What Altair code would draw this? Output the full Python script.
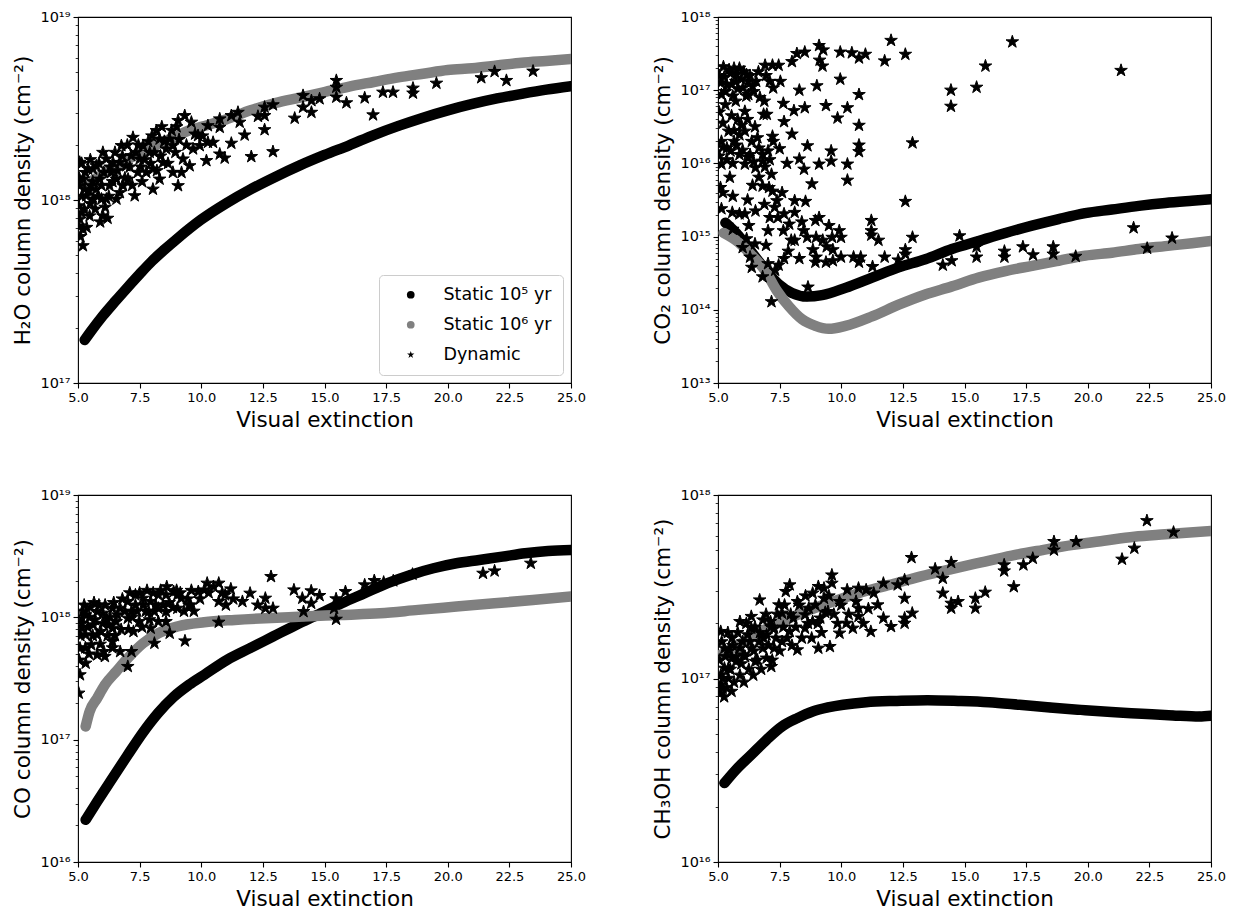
import altair as alt
import pandas as pd

SERIES = ["Static 10⁵ yr", "Static 10⁶ yr", "Dynamic"]
COLORS = ["#000000", "#808080", "#000000"]
STAR = ("M0,-1 L0.2245,-0.309 L0.951,-0.309 L0.363,0.118 L0.588,0.809 "
        "L0,0.382 L-0.588,0.809 L-0.363,0.118 L-0.951,-0.309 L-0.2245,-0.309 Z")
X_TICKS = [5.0, 7.5, 10.0, 12.5, 15.0, 17.5, 20.0, 22.5, 25.0]

# ---------------- H2O ----------------
H2O_S5_AV = [5.27, 5.5, 6.0, 6.5, 7.0, 7.5, 8.0, 8.5, 9.0, 10.0, 11.0, 12.0, 13.0, 14.0, 15.0,
             16.0, 17.0, 18.0, 19.0, 20.0, 21.0, 22.0, 23.0, 24.0, 25.0]
H2O_S5_LOG = [17.235, 17.278, 17.366, 17.445, 17.521, 17.595, 17.666, 17.728, 17.786, 17.893,
              17.981, 18.058, 18.126, 18.189, 18.246, 18.299, 18.355, 18.405, 18.45, 18.49,
              18.525, 18.555, 18.58, 18.603, 18.622]
H2O_S6_AV = [5.25, 5.5, 5.75, 6.0, 6.5, 7.0, 7.5, 8.0, 8.5, 9.0, 9.5, 10.0, 11.0, 12.0, 13.0, 14.0,
             15.0, 16.0, 17.0, 18.0, 19.0, 20.0, 21.0, 22.0, 23.0, 24.0, 25.0]
H2O_S6_LOG = [18.08, 18.10, 18.12, 18.14, 18.18, 18.22, 18.26, 18.29, 18.32, 18.35, 18.38, 18.40,
              18.44, 18.49, 18.53, 18.56, 18.59, 18.62, 18.645, 18.67, 18.69, 18.71, 18.72,
              18.735, 18.75, 18.76, 18.77]
H2O_DYN = [(15.48, 18.653), (15.48, 18.616), (15.48, 18.562), (14.13, 18.571), (14.13, 18.507),
           (14.47, 18.543), (14.47, 18.479), (14.80, 18.553), (13.79, 18.447), (15.89, 18.531),
           (16.63, 18.558), (16.97, 18.465), (17.37, 18.589), (17.78, 18.589), (18.59, 18.611),
           (18.59, 18.584), (19.54, 18.638), (21.36, 18.668), (21.90, 18.702), (22.38, 18.653),
           (23.46, 18.704), (12.91, 18.52), (12.57, 18.507), (12.57, 18.461), (12.57, 18.384),
           (12.30, 18.457), (12.91, 18.264), (12.03, 18.237), (11.76, 18.355), (11.49, 18.479),
           (11.22, 18.461), (11.22, 18.31), (11.56, 18.425), (10.95, 18.229), (10.75, 18.443),
           (10.75, 18.397), (10.75, 18.251), (10.27, 18.406), (10.27, 18.315), (10.21, 18.215),
           (9.87, 18.352), (9.67, 18.279), (9.60, 18.425), (9.33, 18.461), (9.06, 18.434),
           (9.06, 18.078), (8.85, 18.151), (8.18, 18.379), (8.04, 18.059), (8.72, 18.333),
           (8.45, 18.205), (7.91, 18.260), (7.64, 18.297), (7.23, 18.342), (6.76, 18.297),
           (7.30, 18.023), (6.01, 18.26), (5.61, 18.169), (5.20, 17.84), (6.01, 17.913),
           (5.07, 18.206), (5.34, 18.023), (6.15, 18.005), (6.56, 18.114), (6.96, 18.187),
           (7.50, 18.224), (8.58, 18.279), (9.26, 18.224), (9.53, 18.187), (8.04, 18.169),
           (8.31, 18.114), (6.42, 18.205), (5.61, 18.005), (5.07, 18.078), (5.47, 17.913),
           (5.88, 18.114), (6.28, 18.078), (6.83, 18.078), (7.16, 18.242), (8.85, 18.297),
           (9.94, 18.297), (10.48, 18.315), (8.31, 18.333), (7.77, 18.151), (5.03, 17.968),
           (5.20, 18.114), (5.74, 18.059), (6.56, 18.005), (5.41, 18.169), (5.03, 17.858),
           (5.14, 17.93), (5.54, 18.078), (5.95, 18.005), (6.35, 18.151), (6.69, 18.205),
           (7.03, 18.114), (7.43, 18.151), (6.15, 18.224), (5.74, 18.187), (5.27, 18.059),
           (5.07, 17.895), (5.05, 18.12), (5.15, 18.02), (5.25, 17.95), (5.30, 18.15),
           (5.45, 18.05), (5.50, 17.98), (5.60, 18.10), (5.70, 17.95), (5.80, 18.02),
           (5.85, 18.20), (5.95, 18.08), (6.05, 18.15), (6.10, 17.96), (6.25, 18.02),
           (6.30, 18.18), (6.40, 18.10), (6.50, 18.26), (6.60, 18.16), (6.70, 18.04),
           (6.80, 18.24), (6.90, 18.12), (7.00, 18.30), (7.10, 18.18), (7.20, 18.08),
           (7.35, 18.26), (7.45, 18.30), (7.55, 18.18), (7.70, 18.22), (7.85, 18.32),
           (7.95, 18.20), (8.10, 18.26), (8.20, 18.16), (8.35, 18.24), (8.50, 18.32),
           (8.65, 18.20), (8.80, 18.38), (8.95, 18.26), (9.10, 18.33), (9.20, 18.15),
           (9.40, 18.30), (9.75, 18.36), (10.05, 18.35), (5.10, 17.80), (5.20, 17.75),
           (5.35, 17.85), (5.15, 18.20), (5.50, 18.22), (5.90, 17.88), (6.20, 17.90),
           (7.60, 18.10), (8.00, 18.35), (8.40, 18.40), (9.00, 18.40)]

# ---------------- CO2 ----------------
CO2_S5_AV = [5.30, 5.84, 6.38, 6.92, 7.46, 8.0, 8.61, 9.22, 10.17, 11.25, 12.33, 13.41, 14.49,
             15.57, 16.66, 17.74, 18.82, 19.90, 20.98, 22.07, 23.15, 24.23, 25.0]
CO2_S5_LOG = [15.19, 15.01, 14.78, 14.55, 14.35, 14.23, 14.18, 14.20, 14.30, 14.44, 14.58, 14.69,
              14.83, 14.94, 15.05, 15.15, 15.24, 15.32, 15.37, 15.42, 15.46, 15.49, 15.51]
CO2_S6_AV = [5.23, 5.84, 6.38, 6.92, 7.39, 7.87, 8.41, 8.95, 9.49, 10.17, 11.25, 12.33, 13.41,
             14.49, 15.57, 16.66, 17.74, 18.82, 19.90, 20.98, 22.07, 23.15, 24.23, 25.0]
CO2_S6_LOG = [15.05, 14.92, 14.74, 14.53, 14.26, 14.05, 13.87, 13.78, 13.74, 13.78, 13.91, 14.07,
              14.21, 14.32, 14.44, 14.53, 14.60, 14.67, 14.74, 14.78, 14.83, 14.87, 14.91, 14.94]
CO2_DYN = [(12.02, 17.68), (16.94, 17.66), (21.35, 17.27), (15.85, 17.33), (15.49, 17.04),
           (14.45, 17.00), (14.45, 16.78), (12.89, 16.28), (12.60, 17.49), (12.60, 15.48),
           (11.76, 17.40), (10.98, 17.49), (10.72, 17.44), (10.72, 16.94), (10.72, 16.52),
           (10.72, 16.25), (10.72, 16.16), (10.43, 17.51), (10.25, 16.76), (10.25, 15.99),
           (10.25, 15.77), (9.96, 17.52), (9.96, 17.15), (9.85, 16.62), (9.59, 16.17),
           (9.59, 16.03), (9.38, 16.79), (9.10, 17.61), (9.27, 17.55), (9.12, 17.41),
           (9.24, 17.33), (9.01, 17.06), (9.10, 15.99), (8.63, 16.24), (8.52, 17.52),
           (8.52, 16.76), (8.30, 17.00), (8.30, 16.06), (8.49, 15.92), (8.81, 15.72),
           (8.55, 15.48), (8.08, 16.72), (8.20, 17.50), (8.00, 17.39), (7.65, 16.82),
           (7.68, 16.57), (7.21, 16.37), (6.98, 16.67), (6.85, 16.67), (7.21, 17.34),
           (7.53, 17.12), (6.91, 17.34), (6.64, 17.25), (6.16, 17.21), (5.87, 17.30),
           (5.65, 17.30), (5.22, 17.32), (5.36, 17.07), (5.14, 16.94), (5.72, 16.85),
           (6.09, 16.71), (5.80, 16.60), (5.43, 16.44), (5.14, 16.30), (5.51, 16.17),
           (5.87, 16.12), (6.09, 15.99), (6.23, 16.08), (6.52, 15.94), (6.81, 16.03),
           (6.66, 16.21), (6.37, 16.30), (5.14, 15.99), (5.48, 15.81), (5.10, 15.67),
           (5.14, 15.38), (5.58, 15.33), (6.09, 15.31), (6.52, 15.35), (6.81, 15.69),
           (7.21, 15.62), (7.39, 15.49), (7.10, 15.26), (7.68, 15.31), (8.11, 15.33),
           (7.65, 15.08), (7.97, 14.95), (8.11, 14.95), (8.47, 15.08), (8.62, 14.99),
           (8.95, 15.22), (9.10, 15.26), (8.98, 14.99), (9.41, 14.86), (9.63, 14.99),
           (9.92, 15.08), (9.99, 14.99), (9.66, 14.82), (9.99, 14.72), (8.98, 14.72),
           (8.95, 14.65), (9.38, 14.65), (9.66, 14.67), (10.50, 14.72), (10.79, 14.72),
           (10.72, 14.65), (11.27, 14.59), (11.22, 15.22), (11.22, 15.08), (11.22, 15.02),
           (11.51, 14.95), (11.76, 14.72), (12.31, 14.68), (12.60, 14.82), (12.60, 14.76),
           (12.89, 14.99), (14.12, 14.61), (14.48, 14.67), (14.80, 15.01), (15.49, 14.86),
           (15.49, 14.72), (16.62, 14.80), (16.62, 14.72), (17.37, 14.86), (17.78, 14.75),
           (18.60, 14.86), (18.60, 14.76), (19.51, 14.73), (21.86, 15.12), (22.41, 14.84),
           (23.42, 14.98), (7.17, 14.11), (8.65, 14.31), (6.81, 14.45), (6.37, 14.58),
           (6.30, 14.72), (6.16, 14.97), (5.87, 15.31), (6.95, 14.88), (7.03, 14.63),
           (7.46, 14.61), (7.68, 14.70), (7.32, 14.54), (7.03, 15.08), (7.43, 15.26),
           (6.88, 15.44), (7.89, 15.17), (8.11, 15.49), (7.07, 15.67), (7.17, 15.85),
           (6.66, 15.81), (7.03, 16.17), (7.24, 16.30), (7.46, 17.34), (7.24, 17.03),
           (6.88, 16.85), (6.45, 16.98), (6.23, 17.12), (6.01, 17.03), (5.51, 17.23),
           (5.72, 17.12), (6.23, 16.94), (5.87, 16.39), (6.09, 16.44), (5.65, 16.30),
           (5.36, 16.21), (6.81, 16.12), (5.05, 17.20), (5.10, 17.10), (5.25, 17.18),
           (5.30, 16.98), (5.45, 17.28), (5.55, 17.08), (5.60, 16.92), (5.75, 17.22),
           (5.80, 17.02), (5.95, 17.15), (6.05, 17.25), (6.15, 16.92), (6.30, 17.20),
           (6.40, 17.05), (6.55, 17.12), (6.70, 16.90), (6.95, 17.20), (7.10, 17.12),
           (5.05, 16.70), (5.20, 16.55), (5.30, 16.80), (5.55, 16.65), (5.65, 16.45),
           (5.95, 16.52), (6.20, 16.60), (6.50, 16.50), (5.05, 16.10), (5.20, 16.22),
           (5.35, 16.05), (5.60, 16.00), (5.75, 16.25), (6.00, 16.18), (6.30, 16.12),
           (6.45, 16.02), (6.60, 16.35), (6.90, 15.95), (7.10, 16.05), (5.20, 15.60),
           (5.60, 15.55), (6.20, 15.50), (6.40, 15.70), (7.30, 15.40), (7.60, 15.60),
           (7.80, 16.00), (7.50, 16.20), (8.00, 16.40), (6.00, 14.85), (6.50, 14.90),
           (5.60, 15.10), (6.25, 15.15), (7.85, 14.80), (8.30, 14.70), (8.85, 14.82),
           (9.25, 14.95), (8.40, 15.20), (9.50, 15.15)]

# ---------------- CO ----------------
CO_S5_AV = [5.31, 5.78, 6.40, 7.02, 7.64, 8.26, 8.88, 9.50, 10.12, 11.05, 11.98, 12.91, 13.84,
            14.77, 15.70, 16.63, 17.56, 18.49, 19.42, 20.35, 21.28, 22.21, 23.14, 24.07, 25.0]
CO_S5_LOG = [16.345, 16.495, 16.686, 16.876, 17.06, 17.22, 17.35, 17.448, 17.53, 17.652, 17.748,
             17.843, 17.938, 18.025, 18.115, 18.197, 18.279, 18.347, 18.401, 18.442, 18.469,
             18.496, 18.524, 18.543, 18.551]
CO_S6_AV = [5.31, 5.47, 5.78, 6.09, 6.55, 7.02, 7.64, 8.26, 9.03, 10.12, 11.36, 12.60, 14.15,
            15.70, 17.25, 18.80, 20.35, 21.90, 23.45, 25.0]
CO_S6_LOG = [17.108, 17.23, 17.34, 17.448, 17.557, 17.666, 17.788, 17.87, 17.925, 17.96, 17.979,
             17.993, 18.006, 18.02, 18.033, 18.061, 18.088, 18.115, 18.142, 18.17]
CO_DYN = [(12.83, 18.333), (18.57, 18.352), (16.63, 18.265), (17.02, 18.30), (17.40, 18.287),
          (17.79, 18.298), (23.37, 18.442), (21.43, 18.36), (21.90, 18.379), (13.76, 18.224),
          (14.10, 18.156), (14.46, 18.216), (14.46, 18.115), (14.80, 18.178), (14.15, 18.047),
          (15.47, 18.151), (15.47, 17.984), (15.85, 18.21), (15.39, 18.074), (12.60, 18.156),
          (12.60, 18.074), (12.91, 18.074), (12.29, 18.10), (11.98, 18.197), (11.67, 18.129),
          (11.20, 18.232), (10.97, 18.183), (10.71, 18.279), (10.71, 18.129), (10.71, 17.96),
          (10.24, 18.279), (10.12, 18.224), (9.88, 18.21), (9.57, 18.10), (9.34, 17.807),
          (9.03, 18.183), (8.72, 17.87), (8.57, 17.965), (8.26, 18.183), (8.10, 17.788),
          (7.95, 17.911), (7.64, 18.10), (7.17, 17.72), (7.25, 17.884), (7.02, 17.598),
          (6.71, 17.72), (6.40, 18.074), (6.09, 17.68), (5.78, 17.693), (5.31, 17.625),
          (5.08, 17.53), (5.03, 17.38), (5.47, 18.0), (5.78, 18.047), (5.31, 17.857),
          (5.08, 17.748), (5.54, 17.775), (5.93, 17.884), (6.24, 17.938), (6.40, 17.911),
          (6.71, 18.074), (7.02, 18.129), (7.33, 18.10), (7.64, 18.156), (7.95, 18.129),
          (8.26, 18.074), (8.57, 18.183), (8.88, 18.21), (9.19, 18.156), (9.50, 18.10),
          (9.03, 18.074), (8.57, 18.047), (5.31, 18.02), (5.62, 17.938), (6.01, 18.034),
          (6.55, 17.965), (7.02, 17.993), (7.48, 17.965), (7.87, 18.047), (5.16, 17.993),
          (5.16, 17.911), (7.17, 18.047), (6.16, 17.993), (7.33, 18.183), (8.10, 18.047),
          (8.26, 17.965), (5.78, 17.857), (6.40, 17.802), (5.10, 17.85), (5.20, 18.05),
          (5.30, 17.75), (5.40, 17.92), (5.50, 18.08), (5.60, 17.85), (5.70, 17.98),
          (5.85, 18.10), (5.90, 17.78), (6.00, 17.95), (6.10, 18.10), (6.20, 17.85),
          (6.30, 18.00), (6.45, 18.12), (6.50, 17.85), (6.60, 18.02), (6.75, 17.90),
          (6.80, 18.15), (6.90, 18.05), (7.05, 17.90), (7.10, 18.20), (7.20, 18.00),
          (7.40, 18.05), (7.50, 18.20), (7.60, 17.92), (7.75, 18.05), (7.80, 18.22),
          (7.90, 17.98), (8.05, 18.20), (8.15, 18.10), (8.35, 18.22), (8.45, 18.10),
          (8.60, 18.25), (8.70, 18.12), (8.85, 18.08), (9.00, 18.22), (9.15, 18.20),
          (9.30, 18.05), (9.45, 18.15), (9.60, 18.22), (9.70, 18.05), (9.95, 18.15),
          (10.30, 18.20), (10.50, 18.25), (10.85, 18.20), (11.00, 18.10), (11.30, 18.15),
          (5.05, 17.65), (5.15, 17.95), (5.25, 18.10), (5.45, 17.70), (5.65, 18.12),
          (6.05, 17.72), (6.40, 17.75)]

# ---------------- CH3OH ----------------
CH3OH_S5_AV = [5.26, 5.73, 6.35, 6.97, 7.60, 8.22, 8.84, 9.46, 10.08, 11.01, 12.26, 13.50, 14.74,
               15.99, 17.23, 18.47, 19.72, 20.96, 22.20, 23.45, 24.53, 25.0]
CH3OH_S5_LOG = [16.43, 16.503, 16.584, 16.666, 16.739, 16.784, 16.82, 16.842, 16.857, 16.871,
                16.878, 16.882, 16.878, 16.871, 16.857, 16.842, 16.829, 16.817, 16.808, 16.799,
                16.793, 16.797]
CH3OH_S6_AV = [5.11, 5.73, 6.35, 7.28, 8.22, 9.46, 10.70, 11.95, 13.19, 14.43, 15.68, 16.92,
               18.16, 19.41, 20.65, 21.89, 23.14, 25.0]
CH3OH_S6_LOG = [17.129, 17.174, 17.229, 17.292, 17.347, 17.41, 17.465, 17.51, 17.555, 17.595,
                17.633, 17.67, 17.70, 17.728, 17.751, 17.773, 17.786, 17.804]
CH3OH_DYN = [(22.40, 17.86), (23.48, 17.797), (21.89, 17.71), (21.39, 17.65), (19.53, 17.746),
             (18.63, 17.746), (18.63, 17.70), (17.77, 17.655), (17.39, 17.619), (17.00, 17.50),
             (16.61, 17.619), (16.61, 17.586), (15.84, 17.47), (15.44, 17.437), (15.44, 17.383),
             (14.74, 17.419), (14.46, 17.632), (14.46, 17.41), (14.46, 17.383), (14.12, 17.546),
             (14.12, 17.465), (13.81, 17.597), (12.85, 17.659), (12.88, 17.356), (12.57, 17.537),
             (12.57, 17.437), (12.57, 17.329), (12.57, 17.301), (12.29, 17.51), (12.02, 17.283),
             (11.71, 17.519), (11.71, 17.329), (11.48, 17.401), (11.32, 17.465), (11.20, 17.256),
             (11.01, 17.483), (10.70, 17.492), (10.70, 17.383), (10.70, 17.338), (10.47, 17.274),
             (10.24, 17.483), (10.21, 17.301), (9.93, 17.419), (9.93, 17.247), (9.62, 17.564),
             (9.62, 17.519), (9.54, 17.174), (9.30, 17.492), (9.30, 17.437), (9.07, 17.501),
             (9.07, 17.165), (8.84, 17.465), (8.68, 17.383), (8.53, 17.274), (8.22, 17.419),
             (8.22, 17.156), (7.91, 17.51), (7.75, 17.474), (7.60, 17.356), (7.47, 17.401),
             (7.13, 17.31), (7.16, 17.065), (6.82, 17.319), (6.69, 17.428), (6.43, 17.018),
             (6.35, 17.338), (5.89, 17.31), (5.57, 17.22), (5.26, 17.165), (5.11, 17.256),
             (5.11, 17.018), (5.19, 16.947), (5.42, 17.056), (5.73, 17.093), (6.04, 17.129),
             (6.35, 17.165), (6.66, 17.201), (6.97, 17.238), (7.28, 17.274), (7.60, 17.201),
             (7.91, 17.256), (8.06, 17.329), (8.53, 17.347), (8.84, 17.31), (9.15, 17.329),
             (9.46, 17.365), (5.89, 17.165), (5.57, 17.111), (5.26, 17.056), (5.11, 16.965),
             (6.20, 17.238), (6.51, 17.093), (6.82, 17.165), (7.28, 17.165), (5.42, 17.001),
             (5.89, 17.018), (6.97, 17.111), (6.35, 17.274), (5.05, 17.10), (5.15, 17.20),
             (5.20, 17.00), (5.30, 17.12), (5.35, 16.95), (5.45, 17.15), (5.50, 17.05),
             (5.60, 17.18), (5.65, 16.98), (5.75, 17.12), (5.80, 17.25), (5.95, 17.08),
             (6.00, 17.20), (6.10, 17.12), (6.15, 17.30), (6.25, 17.05), (6.30, 17.20),
             (6.45, 17.15), (6.50, 17.28), (6.60, 17.10), (6.70, 17.25), (6.75, 17.05),
             (6.85, 17.22), (6.95, 17.35), (7.05, 17.18), (7.15, 17.28), (7.20, 17.10),
             (7.35, 17.22), (7.40, 17.35), (7.50, 17.15), (7.65, 17.28), (7.70, 17.40),
             (7.80, 17.22), (7.95, 17.35), (8.00, 17.18), (8.15, 17.28), (8.30, 17.40),
             (8.40, 17.22), (8.55, 17.45), (8.65, 17.30), (8.80, 17.22), (8.95, 17.40),
             (9.05, 17.30), (9.20, 17.25), (9.35, 17.36), (9.50, 17.45), (9.70, 17.35),
             (9.85, 17.30), (10.00, 17.40), (10.30, 17.35), (10.60, 17.42), (10.90, 17.30),
             (11.10, 17.38), (5.10, 16.92), (5.25, 16.90), (5.40, 17.25), (5.55, 16.93),
             (6.05, 16.98)]

SUP = str.maketrans("0123456789-", "⁰¹²³⁴⁵⁶⁷⁸⁹⁻")
MAJOR = "abs(log(datum.value)/LN10 - round(log(datum.value)/LN10)) < 0.001"


def frame(av, logs, series):
    return pd.DataFrame({"av": av, "n": [10.0 ** v for v in logs], "series": series})


def y_axis(lo, hi, title):
    vals = [k * 10.0 ** d for d in range(lo, hi) for k in range(1, 10)] + [10.0 ** hi]
    expr = "''"
    for d in range(lo, hi + 1):
        expr = f"(round(log(datum.value)/LN10) == {d} && {MAJOR}) ? '10{str(d).translate(SUP)}' : " + expr
    return alt.Axis(values=vals, labelExpr=expr, title=title, labelOverlap=False,
                    labelFlush=False, labelFontSize=14.5,
                    tickSize={"condition": {"test": MAJOR, "value": 5}, "value": 2.8},
                    tickWidth={"condition": {"test": MAJOR, "value": 1.1}, "value": 0.8})


X_AXIS = alt.Axis(values=X_TICKS, format=".1f", title="Visual extinction", labelFlush=False,
                  labelOverlap=False, tickSize=5, tickWidth=1.1)


def panel(s5, s6, dyn, lo, hi, title, legend, h):
    d5 = frame(s5[0], s5[1], SERIES[0])
    d6 = frame(s6[0], s6[1], SERIES[1])
    dd = frame([p[0] for p in dyn], [p[1] for p in dyn], SERIES[2])
    x = alt.X("av:Q", scale=alt.Scale(domain=[5, 25], nice=False, zero=False), axis=X_AXIS)
    y = alt.Y("n:Q", scale=alt.Scale(type="log", domain=[10.0 ** lo, 10.0 ** hi], nice=False),
              axis=y_axis(lo, hi, title))
    leg = (alt.Legend(title=None, orient="bottom-right", offset=8, labelFontSize=17.5,
                      symbolSize=60, symbolStrokeWidth=0, padding=11, symbolOffset=12,
                      labelOffset=24, rowPadding=11, strokeColor="#cccccc", fillColor="white",
                      cornerRadius=4, labelColor="black")
           if legend else None)
    color = alt.Color("series:N", scale=alt.Scale(domain=SERIES, range=COLORS), legend=leg)
    shape = alt.Shape("series:N", scale=alt.Scale(domain=SERIES, range=["circle", "circle", STAR]),
                      legend=leg)

    def line(df, col):
        return alt.Chart(df).mark_line(color=col, strokeWidth=10.5, strokeCap="round",
                                       strokeJoin="round", interpolate="monotone",
                                       clip=True).encode(x=x, y=y)

    def pts(df, size, stroke=None):
        kw = {"stroke": stroke, "strokeWidth": 1.0} if stroke else {}
        return alt.Chart(df).mark_point(filled=True, opacity=1, size=size, clip=True,
                                        **kw).encode(x=x, y=y, color=color, shape=shape)

    return alt.layer(line(d5, COLORS[0]), pts(d5, 86), line(d6, COLORS[1]), pts(d6, 86),
                     pts(dd, 175, "black")).properties(width=493, height=h)


p1 = panel((H2O_S5_AV, H2O_S5_LOG), (H2O_S6_AV, H2O_S6_LOG), H2O_DYN, 17, 19,
           "H₂O column density (cm⁻²)", True, 366)
p2 = panel((CO2_S5_AV, CO2_S5_LOG), (CO2_S6_AV, CO2_S6_LOG), CO2_DYN, 13, 18,
           "CO₂ column density (cm⁻²)", False, 366)
p3 = panel((CO_S5_AV, CO_S5_LOG), (CO_S6_AV, CO_S6_LOG), CO_DYN, 16, 19,
           "CO column density (cm⁻²)", False, 367)
p4 = panel((CH3OH_S5_AV, CH3OH_S5_LOG), (CH3OH_S6_AV, CH3OH_S6_LOG), CH3OH_DYN, 16, 18,
           "CH₃OH column density (cm⁻²)", False, 367)

chart = alt.concat(p1, p2, p3, p4, columns=2, spacing={"row": 112, "column": 147},
                   bounds="flush").resolve_scale(
    color="independent", shape="independent"
).properties(
    padding={"left": 4, "top": 0, "right": 5, "bottom": 0}
).configure(font="DejaVu Sans").configure_view(
    stroke="black", strokeWidth=1.1
).configure_axis(
    grid=False, domain=False, labelFontSize=13, titleFontSize=21.5, titleFontWeight="normal",
    labelColor="black", titleColor="black", tickColor="black", labelPadding=3, titlePadding=5
)

chart.save("out.html", embed_options={"renderer": "svg", "actions": False})
